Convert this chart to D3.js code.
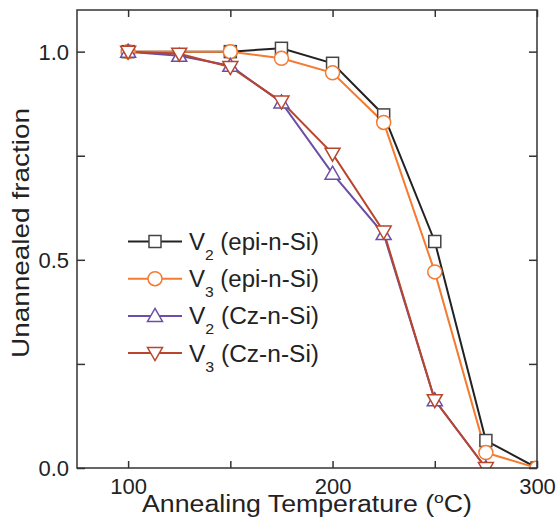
<!DOCTYPE html>
<html><head><meta charset="utf-8">
<script src="https://cdn.jsdelivr.net/npm/d3@7"></script>
<style>body{margin:0;background:#fff;} svg{display:block;font-family:"Liberation Sans",Arial,sans-serif;}</style>
</head><body>
<svg id="c" width="559" height="522"></svg>
<script>
const xEpi = [100, 150, 175, 200, 225, 250, 275, 300];
const v2Epi = [1.0, 1.0, 1.008, 0.972, 0.848, 0.544, 0.066, 0.0];
const v3Epi = [1.0, 1.0, 0.984, 0.949, 0.830, 0.471, 0.037, 0.0];
const xCz = [100, 125, 150, 175, 200, 225, 250, 275];
const v2Cz = [1.0, 0.99, 0.966, 0.878, 0.707, 0.562, 0.163, 0.0];
const v3Cz = [1.0, 0.995, 0.963, 0.880, 0.755, 0.568, 0.163, 0.0];
const xTicks = [100, 150, 200, 250, 300];
const xLabels = [100, 200, 300];
const yTicks = [0, 0.25, 0.5, 0.75, 1.0];
const yLabels = [0, 0.5, 1.0];
const seriesNames = ["V|2| (epi-n-Si)", "V|3| (epi-n-Si)", "V|2| (Cz-n-Si)", "V|3| (Cz-n-Si)"];

const L = 77, R = 537, T = 10, B = 468;
const svg = d3.select("#c");
const x = d3.scaleLinear().domain([75, 300]).range([L, R]);
const y = d3.scaleLinear().domain([0, 1.1]).range([B, T]);

const series = [
  {xs: xEpi, ys: v2Epi, color: "#222222", sym: "square"},
  {xs: xEpi, ys: v3Epi, color: "#f47b30", sym: "circle"},
  {xs: xCz, ys: v2Cz, color: "#6a4ea8", sym: "up"},
  {xs: xCz, ys: v3Cz, color: "#b8462c", sym: "down"}
];

svg.append("defs").append("clipPath").attr("id", "clip")
  .append("rect").attr("x", L).attr("y", T).attr("width", R - L).attr("height", B - T);

function marker(g, sym, cx, cy, color) {
  if (sym === "square") {
    g.append("rect").attr("x", cx - 6).attr("y", cy - 6).attr("width", 12).attr("height", 12)
      .attr("fill", "#fff").attr("stroke", "#444").attr("stroke-width", 1.5);
  } else if (sym === "circle") {
    g.append("circle").attr("cx", cx).attr("cy", cy).attr("r", 7)
      .attr("fill", "#fff").attr("stroke", color).attr("stroke-width", 1.5);
  } else if (sym === "up") {
    g.append("path").attr("d", `M${cx},${cy-7.5}L${cx+7.5},${cy+5.5}L${cx-7.5},${cy+5.5}Z`)
      .attr("fill", "#fff").attr("stroke", color).attr("stroke-width", 1.5);
  } else {
    g.append("path").attr("d", `M${cx},${cy+7.5}L${cx+7.5},${cy-5.5}L${cx-7.5},${cy-5.5}Z`)
      .attr("fill", "#fff").attr("stroke", color).attr("stroke-width", 1.5);
  }
}

const plot = svg.append("g").attr("clip-path", "url(#clip)");
const line = d3.line();
series.forEach(s => {
  const pts = s.xs.map((d, i) => [x(d), y(s.ys[i])]);
  plot.append("path").attr("d", line(pts)).attr("fill", "none")
    .attr("stroke", s.color).attr("stroke-width", 2);
});
series.forEach(s => {
  s.xs.forEach((d, i) => marker(plot, s.sym, x(d), y(s.ys[i]), s.color));
});

// frame
svg.append("rect").attr("x", L).attr("y", T).attr("width", R - L).attr("height", B - T)
  .attr("fill", "none").attr("stroke", "#333").attr("stroke-width", 1.5);

// axes ticks (inward)
const axB = d3.axisBottom(x).tickValues(xTicks).tickSize(-7).tickFormat(d => xLabels.includes(d) ? d : "");
const gB = svg.append("g").attr("transform", `translate(0,${B})`).call(axB);
const axT = d3.axisTop(x).tickValues(xTicks).tickSize(-7).tickFormat("");
const gT = svg.append("g").attr("transform", `translate(0,${T})`).call(axT);
const axL = d3.axisLeft(y).tickValues(yTicks).tickSize(-8).tickFormat(d => yLabels.includes(d) ? d3.format(".1f")(d) : "").tickPadding(8);
const gL = svg.append("g").attr("transform", `translate(${L},0)`).call(axL);
const axR = d3.axisRight(y).tickValues(yTicks).tickSize(-8).tickFormat("");
const gR = svg.append("g").attr("transform", `translate(${R},0)`).call(axR);
[gB, gT, gL, gR].forEach(g => {
  g.select(".domain").remove();
  g.selectAll(".tick line").attr("stroke", "#333").attr("stroke-width", 1.5);
  g.selectAll(".tick text").attr("fill", "#222").style("font-size", "22px")
    .style("font-family", '"Liberation Sans",Arial,sans-serif');
});
gB.selectAll(".tick text").attr("dy", null).attr("y", 26);
gL.selectAll(".tick text").attr("dy", "0.36em");

// axis titles
const xt = svg.append("text").attr("x", 307).attr("y", 512).attr("text-anchor", "middle")
  .attr("fill", "#222").style("font-size", "23px")
  .attr("textLength", 330).attr("lengthAdjust", "spacingAndGlyphs");
xt.append("tspan").text("Annealing Temperature (");
xt.append("tspan").text("o").attr("dy", -9).style("font-size", "15px");
xt.append("tspan").text("C)").attr("dy", 9);

svg.append("text").attr("transform", "translate(29,233) rotate(-90)").attr("text-anchor", "middle")
  .attr("fill", "#222").style("font-size", "24px")
  .attr("textLength", 250).attr("lengthAdjust", "spacingAndGlyphs")
  .text("Unannealed fraction");

// legend
const legY0 = 241.5, legDy = 37.2;
series.forEach((s, i) => {
  const yy = legY0 + i * legDy;
  const g = svg.append("g");
  g.append("line").attr("x1", 128).attr("x2", 182).attr("y1", yy).attr("y2", yy)
    .attr("stroke", s.color).attr("stroke-width", 2);
  marker(g, s.sym, 155, yy, s.color);
  const parts = seriesNames[i].split("|");
  const t = g.append("text").attr("x", 189).attr("y", yy + 8.5).attr("fill", "#222").style("font-size", "23px")
    .attr("textLength", 130).attr("lengthAdjust", "spacingAndGlyphs");
  t.append("tspan").text(parts[0]);
  t.append("tspan").text(parts[1]).attr("dy", 10).style("font-size", "15px");
  t.append("tspan").text(parts[2]).attr("dy", -10);
});
</script>
</body></html>
